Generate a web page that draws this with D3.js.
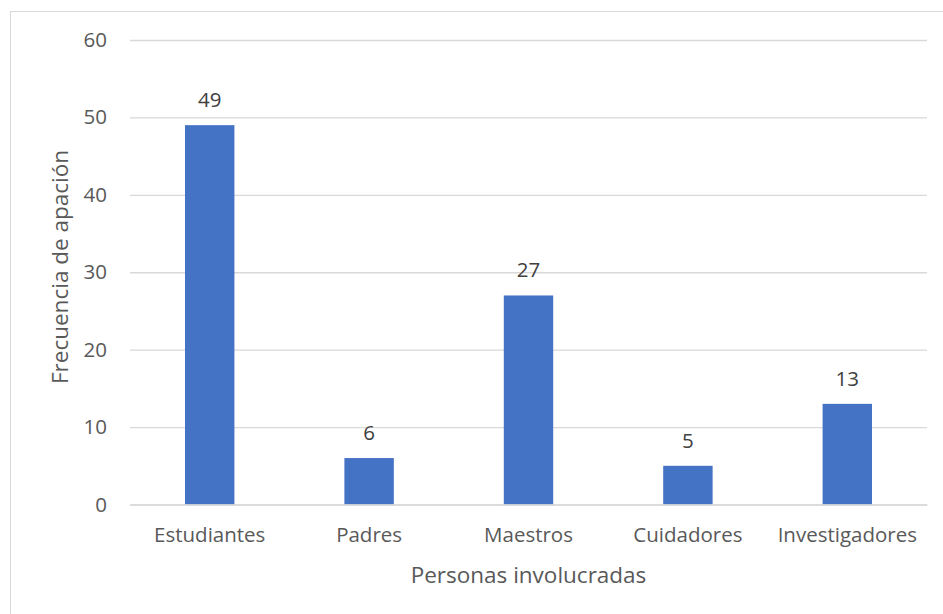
<!DOCTYPE html>
<html>
<head>
<meta charset="utf-8">
<script src="https://cdn.jsdelivr.net/npm/d3@7/dist/d3.min.js"></script>
<style>
  html, body { margin: 0; padding: 0; background: #fff; }
  svg { display: block; font-family: "Open Sans", sans-serif; }
</style>
</head>
<body>
<svg id="chart" width="943" height="614"></svg>
<script>
// Personas involucradas y su frecuencia
const categories = ["Estudiantes", "Padres", "Maestros", "Cuidadores", "Investigadores"];
const values = [49, 6, 27, 5, 13];
const yTicks = [0, 10, 20, 30, 40, 50, 60];
const xTitle = "Personas involucradas";
const yTitle = "Frecuencia de apación";

const svg = d3.select("#chart");
const W = 943, H = 614;
const plot = { left: 130, right: 927, top: 40, bottom: 504.5 };
const labelSize = "20.5px";
const titleSize = "22.5px";

// chart frame (extends past the right and bottom edges)
svg.append("rect")
  .attr("x", 10.5).attr("y", 11.5)
  .attr("width", W).attr("height", H)
  .attr("fill", "#fff")
  .attr("stroke", "#d9d9d9").attr("stroke-width", 1);

const x = d3.scaleBand()
  .domain(categories)
  .range([plot.left, plot.right])
  .paddingInner(0.69)
  .paddingOuter(0.345);

const y = d3.scaleLinear()
  .domain([0, 60])
  .range([plot.bottom, plot.top]);

// gridlines and value axis
const yAxis = d3.axisLeft(y)
  .tickValues(yTicks)
  .tickSize(-(plot.right - plot.left))
  .tickPadding(23)
  .tickFormat(d3.format("d"));

const gy = svg.append("g")
  .attr("transform", `translate(${plot.left},0)`)
  .call(yAxis);
gy.select(".domain").remove();
gy.selectAll(".tick line")
  .attr("stroke", "#d9d9d9").attr("stroke-width", 1.3);
gy.selectAll(".tick text")
  .attr("fill", "#595959")
  .style("font-size", labelSize)
  .style("font-family", "'Open Sans', sans-serif");

// bars
svg.append("g").selectAll("rect")
  .data(values)
  .join("rect")
  .attr("x", (d, i) => x(categories[i]))
  .attr("y", d => y(d))
  .attr("width", x.bandwidth())
  .attr("height", d => y(0) - y(d))
  .attr("fill", "#4472c4");

// value labels
svg.append("g").selectAll("text")
  .data(values)
  .join("text")
  .attr("x", (d, i) => x(categories[i]) + x.bandwidth() / 2)
  .attr("y", d => y(d) - 18)
  .attr("text-anchor", "middle")
  .attr("fill", "#404040")
  .style("font-size", labelSize)
  .text(d => d);

// category axis
const xAxis = d3.axisBottom(x).tickSize(0).tickPadding(23);
const gx = svg.append("g")
  .attr("transform", `translate(0,${plot.bottom})`)
  .call(xAxis);
gx.select(".domain")
  .attr("stroke", "#d9d9d9").attr("stroke-width", 1.5);
gx.selectAll(".tick text")
  .attr("fill", "#595959")
  .style("font-size", labelSize)
  .style("font-family", "'Open Sans', sans-serif");

// axis titles
svg.append("text")
  .attr("x", (plot.left + plot.right) / 2)
  .attr("y", 582.5)
  .attr("text-anchor", "middle")
  .attr("fill", "#595959")
  .style("font-size", titleSize)
  .text(xTitle);

svg.append("text")
  .attr("transform", "translate(68,267) rotate(-90)")
  .attr("text-anchor", "middle")
  .attr("fill", "#595959")
  .style("font-size", titleSize)
  .text(yTitle);
</script>
</body>
</html>
